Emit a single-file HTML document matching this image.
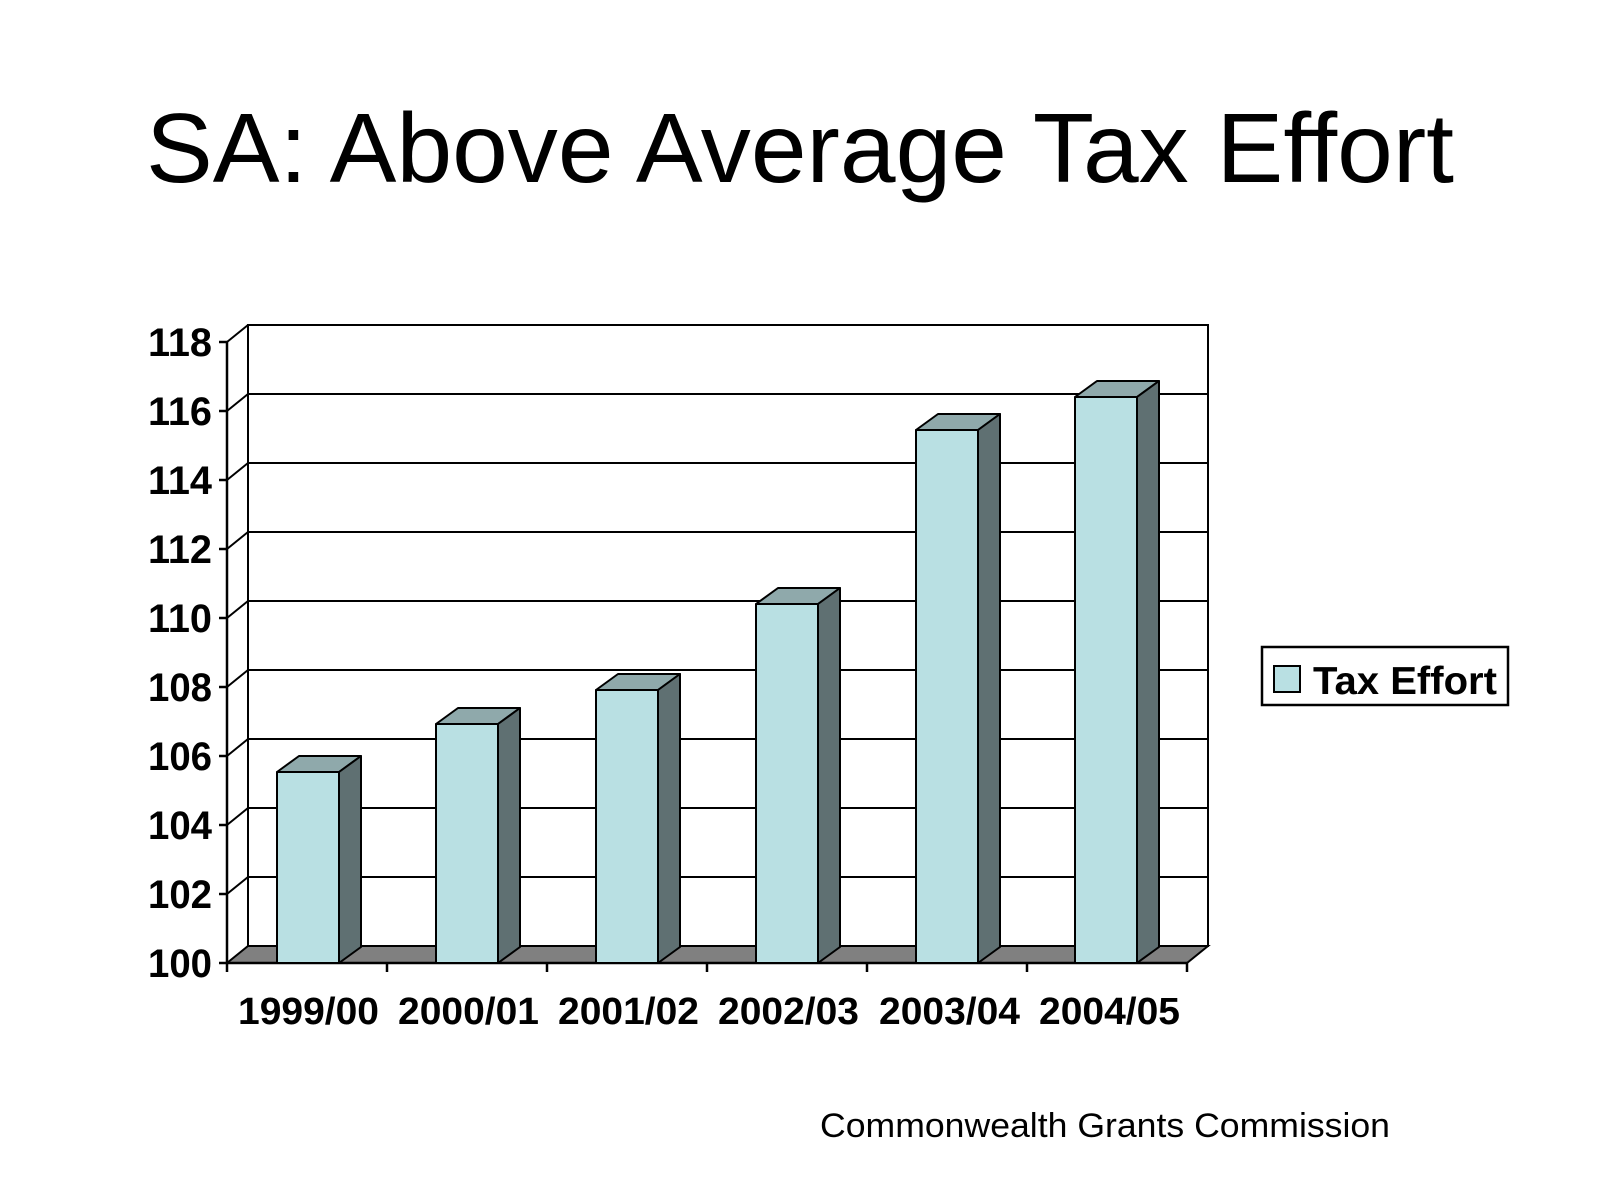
<!DOCTYPE html>
<html><head><meta charset="utf-8"><style>
html,body{margin:0;padding:0;background:#fff;width:1600px;height:1197px;overflow:hidden}
svg{display:block}
text{font-family:"Liberation Sans",Arial,sans-serif}
</style></head><body>
<svg width="1600" height="1197" viewBox="0 0 1600 1197" xmlns="http://www.w3.org/2000/svg">
<text x="146" y="182" font-size="98" textLength="1308" lengthAdjust="spacingAndGlyphs">SA: Above Average Tax Effort</text>
<rect x="248" y="325" width="960" height="621" fill="#fff" stroke="#000" stroke-width="2"/>
<g stroke="#000" stroke-width="2">
<line x1="248" y1="394" x2="1208" y2="394"/>
<line x1="248" y1="463" x2="1208" y2="463"/>
<line x1="248" y1="532" x2="1208" y2="532"/>
<line x1="248" y1="601" x2="1208" y2="601"/>
<line x1="248" y1="670" x2="1208" y2="670"/>
<line x1="248" y1="739" x2="1208" y2="739"/>
<line x1="248" y1="808" x2="1208" y2="808"/>
<line x1="248" y1="877" x2="1208" y2="877"/>
<line x1="227" y1="342" x2="248" y2="325"/>
<line x1="227" y1="411" x2="248" y2="394"/>
<line x1="227" y1="480" x2="248" y2="463"/>
<line x1="227" y1="549" x2="248" y2="532"/>
<line x1="227" y1="618" x2="248" y2="601"/>
<line x1="227" y1="687" x2="248" y2="670"/>
<line x1="227" y1="756" x2="248" y2="739"/>
<line x1="227" y1="825" x2="248" y2="808"/>
<line x1="227" y1="894" x2="248" y2="877"/>
</g>
<polygon points="227,963 248,946 1208,946 1187,963" fill="#808080" stroke="#000" stroke-width="2"/>
<g stroke="#000" stroke-width="2.5">
<line x1="227" y1="342" x2="227" y2="972"/>
<line x1="227" y1="963" x2="1187" y2="963"/>
<line x1="219" y1="342" x2="227" y2="342"/>
<line x1="219" y1="411" x2="227" y2="411"/>
<line x1="219" y1="480" x2="227" y2="480"/>
<line x1="219" y1="549" x2="227" y2="549"/>
<line x1="219" y1="618" x2="227" y2="618"/>
<line x1="219" y1="687" x2="227" y2="687"/>
<line x1="219" y1="756" x2="227" y2="756"/>
<line x1="219" y1="825" x2="227" y2="825"/>
<line x1="219" y1="894" x2="227" y2="894"/>
<line x1="219" y1="963" x2="227" y2="963"/>
<line x1="387" y1="963" x2="387" y2="972"/>
<line x1="547" y1="963" x2="547" y2="972"/>
<line x1="707" y1="963" x2="707" y2="972"/>
<line x1="867" y1="963" x2="867" y2="972"/>
<line x1="1027" y1="963" x2="1027" y2="972"/>
<line x1="1187" y1="963" x2="1187" y2="972"/>
</g>
<g stroke="#000" stroke-width="2" stroke-linejoin="round">
<polygon points="277,772 299,756 361,756 339,772" fill="#8fa9ab"/>
<polygon points="339,772 361,756 361,947 339,963" fill="#5f7072"/>
<rect x="277" y="772" width="62" height="191" fill="#b9e0e3"/>
<polygon points="436,724 458,708 520,708 498,724" fill="#8fa9ab"/>
<polygon points="498,724 520,708 520,947 498,963" fill="#5f7072"/>
<rect x="436" y="724" width="62" height="239" fill="#b9e0e3"/>
<polygon points="596,690 618,674 680,674 658,690" fill="#8fa9ab"/>
<polygon points="658,690 680,674 680,947 658,963" fill="#5f7072"/>
<rect x="596" y="690" width="62" height="273" fill="#b9e0e3"/>
<polygon points="756,604 778,588 840,588 818,604" fill="#8fa9ab"/>
<polygon points="818,604 840,588 840,947 818,963" fill="#5f7072"/>
<rect x="756" y="604" width="62" height="359" fill="#b9e0e3"/>
<polygon points="916,430 938,414 1000,414 978,430" fill="#8fa9ab"/>
<polygon points="978,430 1000,414 1000,947 978,963" fill="#5f7072"/>
<rect x="916" y="430" width="62" height="533" fill="#b9e0e3"/>
<polygon points="1075,397 1097,381 1159,381 1137,397" fill="#8fa9ab"/>
<polygon points="1137,397 1159,381 1159,947 1137,963" fill="#5f7072"/>
<rect x="1075" y="397" width="62" height="566" fill="#b9e0e3"/>
</g>
<g font-size="40" font-weight="bold">
<text x="148" y="356" textLength="64" lengthAdjust="spacingAndGlyphs">118</text>
<text x="148" y="425" textLength="64" lengthAdjust="spacingAndGlyphs">116</text>
<text x="148" y="494" textLength="64" lengthAdjust="spacingAndGlyphs">114</text>
<text x="148" y="563" textLength="64" lengthAdjust="spacingAndGlyphs">112</text>
<text x="148" y="632" textLength="64" lengthAdjust="spacingAndGlyphs">110</text>
<text x="148" y="701" textLength="64" lengthAdjust="spacingAndGlyphs">108</text>
<text x="148" y="770" textLength="64" lengthAdjust="spacingAndGlyphs">106</text>
<text x="148" y="839" textLength="64" lengthAdjust="spacingAndGlyphs">104</text>
<text x="148" y="908" textLength="64" lengthAdjust="spacingAndGlyphs">102</text>
<text x="148" y="977" textLength="64" lengthAdjust="spacingAndGlyphs">100</text>
</g>
<g font-size="38" font-weight="bold">
<text x="238" y="1024" textLength="141" lengthAdjust="spacingAndGlyphs">1999/00</text>
<text x="398" y="1024" textLength="141" lengthAdjust="spacingAndGlyphs">2000/01</text>
<text x="558" y="1024" textLength="141" lengthAdjust="spacingAndGlyphs">2001/02</text>
<text x="718" y="1024" textLength="141" lengthAdjust="spacingAndGlyphs">2002/03</text>
<text x="879" y="1024" textLength="141" lengthAdjust="spacingAndGlyphs">2003/04</text>
<text x="1039" y="1024" textLength="141" lengthAdjust="spacingAndGlyphs">2004/05</text>
</g>
<rect x="1262" y="647" width="246" height="58" fill="#fff" stroke="#000" stroke-width="2.5"/>
<rect x="1274" y="666" width="26" height="26" fill="#b9e0e3" stroke="#000" stroke-width="2"/>
<text x="1313" y="694" font-size="39" font-weight="bold" textLength="184" lengthAdjust="spacingAndGlyphs">Tax Effort</text>
<text x="820" y="1137" font-size="34" textLength="570" lengthAdjust="spacingAndGlyphs">Commonwealth Grants Commission</text>
</svg>
</body></html>
